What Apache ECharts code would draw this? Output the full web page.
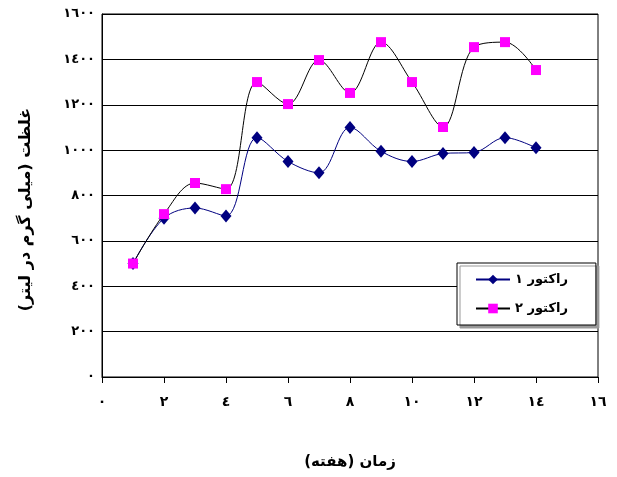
<!DOCTYPE html>
<html>
<head>
<meta charset="utf-8">
<script src="https://cdn.jsdelivr.net/npm/echarts@6/dist/echarts.min.js"></script>
<style>
  html, body { margin: 0; padding: 0; background: #fff; }
  #chart { width: 617px; height: 477px; }
</style>
</head>
<body>
<div id="chart"></div>
<script>
// weeks and concentrations
var weeks = [1, 2, 3, 4, 5, 6, 7, 8, 9, 10, 11, 12, 13, 14];
var reactor1 = [500, 700, 745, 710, 1055, 950, 900, 1100, 995, 950, 985, 990, 1055, 1010];
var reactor2 = [500, 718, 855, 828, 1300, 1203, 1397, 1252, 1476, 1300, 1102, 1454, 1476, 1353];

var seriesNames = ['راکتور ١', 'راکتور ٢'];
var xTickLabels = ['٠', '٢', '٤', '٦', '٨', '١٠', '١٢', '١٤', '١٦'];
var yTickLabels = ['٠', '٢٠٠', '٤٠٠', '٦٠٠', '٨٠٠', '١٠٠٠', '١٢٠٠', '١٤٠٠', '١٦٠٠'];

var FONT = '"DejaVu Sans", "Noto Sans", sans-serif';

function pairs(xs, ys) {
    return xs.map(function (x, i) { return [x, ys[i]]; });
}

var chart = echarts.init(document.getElementById('chart'));
var option = {
    backgroundColor: '#fff',
    animation: false,
    textStyle: { fontFamily: FONT },
    grid: {
        left: 102, right: 19, top: 14, bottom: 100,
        outerBoundsMode: 'none',
        show: true, borderColor: '#000', borderWidth: 1
    },
    legend: {
        orient: 'vertical',
        left: 457, top: 263,
        padding: [10, 28, 10, 18],
        itemWidth: 34, itemHeight: 12,
        itemGap: 16, itemTextGap: 12,
        backgroundColor: '#fff',
        borderColor: '#000', borderWidth: 1,
        shadowColor: '#999', shadowBlur: 0, shadowOffsetX: 3, shadowOffsetY: 3,
        textStyle: { fontFamily: FONT, fontWeight: 'bold', fontSize: 13, color: '#000' },
        data: seriesNames
    },
    xAxis: {
        type: 'value',
        min: 0, max: 16, interval: 2,
        name: 'زمان (هفته)\u200F',
        nameLocation: 'middle',
        nameGap: 78,
        nameTextStyle: { fontFamily: FONT, fontWeight: 'bold', fontSize: 15, color: '#000' },
        axisLine: { lineStyle: { color: '#000', width: 1 } },
        axisTick: { show: true, length: 6, lineStyle: { color: '#000' } },
        splitLine: { show: false },
        axisLabel: {
            margin: 18,
            fontFamily: FONT, fontWeight: 'bold', fontSize: 14, color: '#000',
            formatter: function (v) { return xTickLabels[Math.round(v / 2)]; }
        }
    },
    yAxis: {
        type: 'value',
        min: 0, max: 1600, interval: 200,
        name: 'غلظت (میلی گرم در لیتر)\u200F',
        nameLocation: 'middle',
        nameGap: 68,
        nameRotate: 90,
        nameTextStyle: {
            fontFamily: FONT, fontWeight: 'bold', fontSize: 16, color: '#000',
            padding: [0, 28, 0, 0]
        },
        axisLine: { show: true, lineStyle: { color: '#000', width: 1 } },
        axisTick: { show: false },
        splitLine: { show: true, lineStyle: { color: '#000', width: 1 } },
        axisLabel: {
            margin: 7,
            fontFamily: FONT, fontWeight: 'bold', fontSize: 13, color: '#000',
            formatter: function (v) { return yTickLabels[Math.round(v / 200)]; }
        }
    },
    series: [
        {
            name: seriesNames[0],
            type: 'line',
            smooth: 0.35,
            data: pairs(weeks, reactor1),
            symbol: 'diamond',
            symbolSize: [11, 13],
            itemStyle: { color: '#000080' },
            lineStyle: { color: '#000080', width: 1 }
        },
        {
            name: seriesNames[1],
            type: 'line',
            smooth: 0.35,
            data: pairs(weeks, reactor2),
            symbol: 'rect',
            symbolSize: 10,
            itemStyle: { color: '#FF00FF' },
            lineStyle: { color: '#000', width: 1 }
        }
    ]
};
chart.setOption(option);
</script>
</body>
</html>
